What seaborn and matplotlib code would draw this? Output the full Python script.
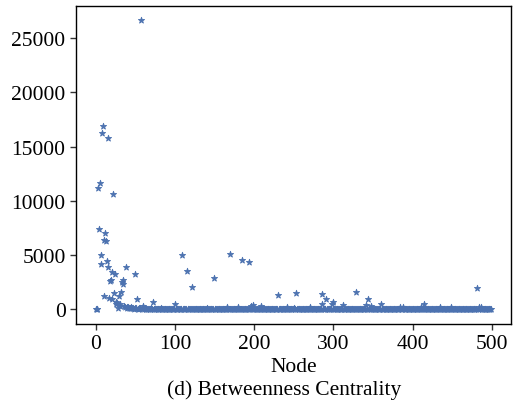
import numpy as np
import pandas as pd
import matplotlib
matplotlib.use("Agg")
import matplotlib.pyplot as plt
import seaborn as sns

# --- data (node index -> betweenness centrality) ---
n_nodes = 500
peak_nodes = [3, 4, 5, 6, 7, 8, 9, 10, 11, 12, 13, 14, 15, 16, 17, 18, 19, 20,
              21, 22, 23, 24, 25, 26, 27, 28, 29, 30, 31, 32, 33, 34, 35, 36,
              37, 38, 39, 40, 41, 42, 43, 44, 45, 46, 47, 48, 49, 50, 51, 52,
              53, 54, 55, 56, 57, 58, 59, 60, 62, 65, 70, 72, 82, 100, 109,
              115, 122, 140, 149, 166, 170, 179, 185, 193, 196, 199, 208, 230,
              242, 250, 253, 270, 285, 286, 291, 298, 299, 312, 329, 341, 344,
              348, 360, 384, 388, 410, 415, 434, 449, 481, 484, 486]
peak_values = [11170, 7410, 11670, 4970, 4170, 16300, 16880, 6390, 1250, 7070,
               6300, 4440, 3900, 15770, 1020, 2650, 2710, 950, 3430, 10620,
               1500, 3300, 700, 450, 600, 160, 1250, 350, 500, 1600, 2560,
               2700, 2340, 300, 200, 3950, 250, 150, 200, 120, 100, 180, 100,
               80, 150, 60, 100, 3300, 80, 950, 60, 120, 50, 90, 26650, 60,
               120, 340, 100, 60, 80, 650, 130, 490, 4970, 3550, 2040, 120,
               2900, 210, 5090, 210, 4540, 4380, 300, 400, 300, 1360, 250, 160,
               1510, 200, 460, 1420, 950, 460, 680, 430, 1600, 430, 950, 310,
               460, 250, 250, 210, 490, 250, 250, 1940, 250, 200]

values = np.zeros(n_nodes)
values[peak_nodes] = peak_values
df = pd.DataFrame({"Node": np.arange(n_nodes), "Betweenness": values})

sns.set_style("ticks")
plt.rcParams["font.family"] = ["Liberation Serif", "DejaVu Serif"]
plt.rcParams["font.size"] = 15.5
plt.rcParams["text.color"] = "black"
plt.rcParams["axes.labelcolor"] = "black"
plt.rcParams["xtick.color"] = "black"
plt.rcParams["ytick.color"] = "black"

fig = plt.figure(figsize=(5.17, 4.06), dpi=100)
ax = fig.add_axes([0.147, 0.2, 0.841, 0.783])

sns.scatterplot(data=df, x="Node", y="Betweenness", ax=ax, marker="*",
                s=22, color="#4c72b0", linewidth=0.6, edgecolor="#4c72b0")

for sp in ax.spines.values():
    sp.set_visible(True)
    sp.set_color("black")
    sp.set_linewidth(1.0)

ax.set_xticks([0, 100, 200, 300, 400, 500])
ax.set_yticks([0, 5000, 10000, 15000, 20000, 25000])
ax.tick_params(axis="both", labelsize=15.5, length=4, width=1, direction="out",
               color="#333333", labelcolor="black")
ax.set_xlabel("Node", fontsize=15.5, labelpad=3)
ax.set_ylabel("")
fig.text(0.55, 0.038, "(d) Betweenness Centrality", ha="center", va="center",
         fontsize=15.5)

fig.savefig("out.png", dpi=100)
